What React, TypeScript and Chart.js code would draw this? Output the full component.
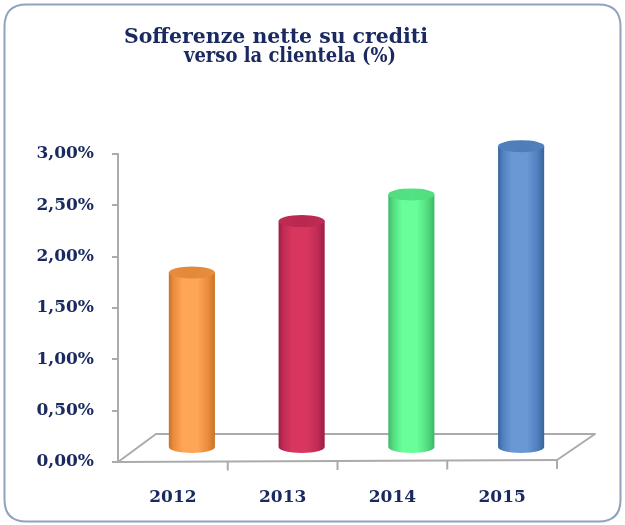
import React, { useEffect, useRef } from "react";
import { Chart, registerables } from "chart.js";

Chart.register(...registerables);

// ---- data ----
const categories = ["2012", "2013", "2014", "2015"];
const values = [1.71, 2.21, 2.47, 2.94];
const yMin = 0;
const yMax = 3;
const yStep = 0.5;
const titleLines = ["Sofferenze nette su crediti", "verso la clientela (%)"];

// ---- styles ----
const cylinderColors = [
  { edge: "#C97228", shade: "#E98C3C", mid: "#FFA556", top: "#E3893A" },
  { edge: "#9A1E44", shade: "#BF2B55", mid: "#D9365F", top: "#B8294F" },
  { edge: "#3DB866", shade: "#52DB80", mid: "#68FF9A", top: "#52E383" },
  { edge: "#3A6399", shade: "#5080BE", mid: "#6A98D4", top: "#4F7DBB" },
];
const NAVY = "#1A2A60";
const AXIS_GREY = "#ABABAB";
const FONT_FAMILY = '"DejaVu Serif", serif';
const DEPTH_X = 38;
const DEPTH_Y = 28;

function formatPct(v: number): string {
  return v.toFixed(2).replace(".", ",") + "%";
}

function roundRect(ctx: CanvasRenderingContext2D, x: number, y: number, w: number, h: number, r: number) {
  ctx.beginPath();
  ctx.moveTo(x + r, y);
  ctx.lineTo(x + w - r, y);
  ctx.quadraticCurveTo(x + w, y, x + w, y + r);
  ctx.lineTo(x + w, y + h - r);
  ctx.quadraticCurveTo(x + w, y + h, x + w - r, y + h);
  ctx.lineTo(x + r, y + h);
  ctx.quadraticCurveTo(x, y + h, x, y + h - r);
  ctx.lineTo(x, y + r);
  ctx.quadraticCurveTo(x, y, x + r, y);
  ctx.closePath();
}

function drawCylinder(
  ctx: CanvasRenderingContext2D,
  cx: number,
  top: number,
  base: number,
  w: number,
  c: { edge: string; shade: string; mid: string; top: string }
) {
  const rx = w / 2;
  const ry = 6;
  const g = ctx.createLinearGradient(cx - rx, 0, cx + rx, 0);
  g.addColorStop(0, c.edge);
  g.addColorStop(0.1, c.shade);
  g.addColorStop(0.3, c.mid);
  g.addColorStop(0.62, c.mid);
  g.addColorStop(0.85, c.shade);
  g.addColorStop(1, c.edge);
  ctx.save();
  ctx.beginPath();
  ctx.moveTo(cx - rx, top);
  ctx.lineTo(cx - rx, base);
  ctx.ellipse(cx, base, rx, ry, 0, Math.PI, 0, true);
  ctx.lineTo(cx + rx, top);
  ctx.closePath();
  ctx.fillStyle = g;
  ctx.fill();

  const tg = ctx.createLinearGradient(cx - rx, 0, cx + rx, 0);
  tg.addColorStop(0, c.shade);
  tg.addColorStop(0.5, c.top);
  tg.addColorStop(1, c.shade);
  ctx.beginPath();
  ctx.ellipse(cx, top, rx, ry, 0, 0, Math.PI * 2);
  ctx.fillStyle = tg;
  ctx.fill();
  ctx.restore();
}

const decorPlugin = {
  id: "decor",
  beforeDraw(chart: any) {
    const ctx: CanvasRenderingContext2D = chart.ctx;
    ctx.save();
    ctx.fillStyle = "#FFFFFF";
    ctx.fillRect(0, 0, chart.width, chart.height);
    roundRect(ctx, 4.5, 4.5, chart.width - 9, chart.height - 8, 22);
    ctx.strokeStyle = "#90A1C1";
    ctx.lineWidth = 2;
    ctx.stroke();

    ctx.fillStyle = NAVY;
    ctx.font = "bold 20.5px " + FONT_FAMILY;
    ctx.textAlign = "center";
    ctx.textBaseline = "alphabetic";
    ctx.fillText(titleLines[0], 276, 43, 304);
    ctx.fillText(titleLines[1], 290, 62, 212);
    ctx.restore();
  },
  beforeDatasetsDraw(chart: any) {
    const ctx: CanvasRenderingContext2D = chart.ctx;
    const { left, right, bottom } = chart.chartArea;
    const xs = chart.scales.x;
    ctx.save();
    ctx.strokeStyle = AXIS_GREY;
    ctx.lineWidth = 2;
    ctx.lineJoin = "round";
    // floor
    ctx.beginPath();
    ctx.moveTo(left, bottom);
    ctx.lineTo(left + DEPTH_X, bottom - DEPTH_Y);
    ctx.lineTo(right + DEPTH_X, bottom - DEPTH_Y);
    ctx.lineTo(right, bottom - 2);
    ctx.stroke();
    // front edge (category axis)
    ctx.beginPath();
    ctx.moveTo(left, bottom);
    ctx.lineTo(right, bottom - 2);
    ctx.stroke();
    // category tick marks
    const n = categories.length;
    const step = (right - left) / n;
    for (let i = 1; i <= n; i++) {
      const x = xs.getPixelForValue(i - 1) + step / 2;
      const yb = bottom - (2 * (x - left)) / (right - left);
      ctx.beginPath();
      ctx.moveTo(x, yb);
      ctx.lineTo(x, yb + 9);
      ctx.stroke();
    }
    ctx.restore();
  },
  afterDatasetsDraw(chart: any) {
    const ctx: CanvasRenderingContext2D = chart.ctx;
    const meta = chart.getDatasetMeta(0);
    meta.data.forEach((el: any, i: number) => {
      drawCylinder(
        ctx,
        el.x + DEPTH_X / 2,
        el.y - DEPTH_Y / 2,
        el.base - DEPTH_Y / 2,
        el.width,
        cylinderColors[i % cylinderColors.length]
      );
    });
  },
};

export default function App() {
  const canvasRef = useRef<HTMLCanvasElement | null>(null);

  useEffect(() => {
    const canvas = canvasRef.current;
    if (!canvas) return;
    const chart = new Chart(canvas, {
      type: "bar",
      data: {
        labels: categories,
        datasets: [
          {
            data: values,
            backgroundColor: "rgba(0,0,0,0)",
            borderWidth: 0,
            barPercentage: 0.42,
            categoryPercentage: 1,
          },
        ],
      },
      options: {
        animation: false,
        responsive: false,
        devicePixelRatio: 1,
        layout: { padding: { top: 154, right: 68, left: 0, bottom: 0 } },
        plugins: {
          legend: { display: false },
          title: { display: false },
          tooltip: { enabled: false },
        },
        scales: {
          x: {
            grid: { display: false, drawTicks: false },
            border: { display: false },
            ticks: {
              color: NAVY,
              font: { family: FONT_FAMILY, size: 17, weight: "bold" },
              padding: 25,
            },
            afterFit(scale: any) {
              scale.height = 63;
            },
          },
          y: {
            min: yMin,
            max: yMax,
            grid: {
              drawOnChartArea: false,
              drawTicks: true,
              tickLength: 6,
              color: AXIS_GREY,
              lineWidth: 2,
            },
            border: { display: true, color: AXIS_GREY, width: 2 },
            ticks: {
              stepSize: yStep,
              color: NAVY,
              font: { family: FONT_FAMILY, size: 17, weight: "bold" },
              padding: 18,
              callback: (v: any) => formatPct(Number(v)),
            },
            afterFit(scale: any) {
              scale.width = 118;
            },
          },
        },
      },
      plugins: [decorPlugin],
    });
    return () => chart.destroy();
  }, []);

  return (
    <div style={{ position: "absolute", left: 0, top: 0, width: 625, height: 525 }}>
      <canvas ref={canvasRef} width={625} height={525} style={{ display: "block" }} />
    </div>
  );
}
